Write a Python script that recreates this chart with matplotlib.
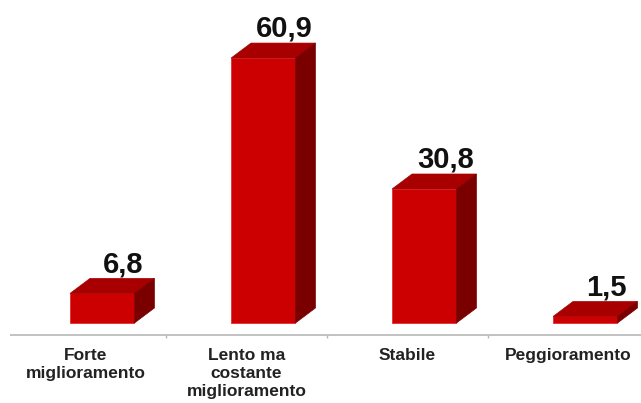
import matplotlib
matplotlib.use('Agg')
import matplotlib.pyplot as plt
from matplotlib.patches import Polygon

plt.rcParams['font.family'] = ['Liberation Sans', 'DejaVu Sans']

categories = ['Forte\nmiglioramento', 'Lento ma\ncostante\nmiglioramento', 'Stabile', 'Peggioramento']
values = [6.8, 60.9, 30.8, 1.5]
value_labels = ['6,8', '60,9', '30,8', '1,5']

# 3d look
front_col = '#CC0000'
top_col = '#A80000'
side_col = '#7A0000'
x_off = -0.096      # front face left, relative to category centre
width = 0.40
dx = 0.124          # depth, in category units
dy = 3.45           # depth, in value units

fig = plt.figure(figsize=(6.41, 4.03), dpi=100)
ax = fig.add_axes([0, 0, 1, 1])
ax.set_xlim(-0.531, 3.450)
ax.set_ylim(-18.39, 74.25)
ax.axis('off')

for i, v in enumerate(values):
    x0 = i + x_off
    x1 = x0 + width
    ax.bar(x0, v, width=width, align='edge', color=front_col,
           edgecolor='#E03030', linewidth=0.6, zorder=3)
    top = Polygon([(x0, v), (x0 + dx, v + dy), (x1 + dx, v + dy), (x1, v)],
                  closed=True, facecolor=top_col, edgecolor=top_col, linewidth=0.5, zorder=3)
    side = Polygon([(x1, 0), (x1 + dx, dy), (x1 + dx, v + dy), (x1, v)],
                   closed=True, facecolor=side_col, edgecolor=side_col, linewidth=0.5, zorder=3)
    ax.add_patch(top)
    ax.add_patch(side)
    ax.text(x0 + width / 2 + 0.13, v + dy + 1.4, value_labels[i], ha='center', va='baseline',
            fontsize=21, fontweight='bold', color='#111111', zorder=4)
    ax.text(i, -5.8, categories[i], ha='center', va='top', fontsize=12.5,
            fontweight='bold', color='#222222', linespacing=1.25)

# floor / axis line
ax.hlines(-2.76, -0.47, 3.45, color='#B8B8B8', linewidth=1.2, zorder=2)
for b in [0.5, 1.5, 2.5]:
    ax.vlines(b, -2.76, -3.5, color='#B8B8B8', linewidth=1.0, zorder=2)

fig.savefig('out.png', dpi=100)
